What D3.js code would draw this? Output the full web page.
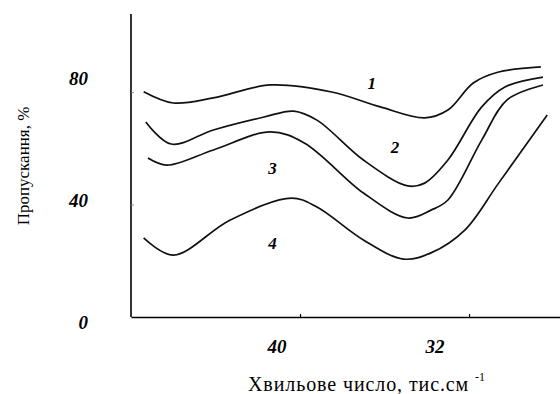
<!DOCTYPE html>
<html>
<head>
<meta charset="utf-8">
<script src="https://cdn.jsdelivr.net/npm/d3@7"></script>
<style>
body { margin: 0; background: #fff; }
svg text { font-family: "Liberation Serif", "DejaVu Serif", serif; fill: #000; }
.num { font-weight: bold; font-style: italic; }
</style>
</head>
<body>
<svg id="chart" width="560" height="394"></svg>
<script>
// wavenumber (thous. cm-1) / transmittance (%)
var curve1 = [[47.4,80.1],[46.0,76.1],[44.1,77.9],[41.4,82.5],[38.5,80.0],[36.2,74.7],[34.1,70.8],[33.0,73.6],[31.8,83.2],[30.6,87.1],[28.6,88.9]];
var curve2 = [[47.3,69.3],[46.1,61.5],[44.1,66.5],[41.7,71.1],[40.3,73.2],[39.2,70.0],[37.0,55.8],[34.9,46.6],[34.1,47.6],[33.0,55.8],[31.4,74.7],[30.3,81.8],[28.5,85.3]];
var curve3 = [[47.2,56.5],[46.3,54.0],[44.1,59.4],[41.4,65.8],[39.8,61.9],[37.0,44.1],[34.9,35.2],[33.8,38.0],[33.0,41.6],[31.4,62.9],[30.2,77.2],[28.5,82.5]];
var curve4 = [[47.4,28.1],[46.0,22.0],[43.3,34.5],[40.4,42.3],[39.2,39.1],[37.0,27.4],[35.1,20.6],[33.8,22.8],[32.2,30.9],[30.6,47.6],[28.3,71.8]];
var curves = [curve1, curve2, curve3, curve4];
var curveNames = ["1", "2", "3", "4"];
var curveLabelAt = [[36.6,83.2], [35.5,60.4], [41.3,53], [41.3,26.3]];

var xTicks = [40, 32];
var yTicks = [80, 40, 0];

var svg = d3.select("#chart");

var x = d3.scaleLinear().domain([48, 27.6]).range([131, 562]);
var y = d3.scaleLinear().domain([0, 80]).range([317, 92]);
// tick numbers in the original are not placed right at the tick marks
var xLab = d3.scaleLinear().domain([40, 32]).range([277, 435]);
var yLab = d3.scaleLinear().domain([0, 80]).range([322, 78]);

// axes
var xAxis = d3.axisBottom(x).tickValues(xTicks).tickSize(-3).tickSizeOuter(0).tickFormat("");
var gx = svg.append("g").attr("transform", "translate(0," + y(0) + ")").call(xAxis);
gx.select(".domain").attr("stroke-width", 1.6);
gx.selectAll(".tick line").attr("stroke-width", 1.2);

var yAxis = d3.axisRight(y).tickValues([80, 40]).tickSize(3).tickSizeOuter(0).tickFormat("");
var gy = svg.append("g").attr("transform", "translate(" + x(48) + ",0)").call(yAxis);
gy.select(".domain").attr("d", "M0," + y(107.7) + "V" + y(0)).attr("stroke-width", 1.6);
gy.selectAll(".tick line").attr("stroke", "#777").attr("stroke-width", 0.8);

svg.selectAll("text.xnum").data(xTicks).enter().append("text")
	.attr("class", "num xnum").attr("x", function(d) { return xLab(d); }).attr("y", 346)
	.attr("dy", ".35em").attr("text-anchor", "middle").attr("font-size", 19).text(function(d) { return d; });

svg.selectAll("text.ynum").data(yTicks).enter().append("text")
	.attr("class", "num ynum").attr("x", 88).attr("y", function(d) { return yLab(d); })
	.attr("dy", ".35em").attr("text-anchor", "end").attr("font-size", 19).text(function(d) { return d; });

// axis titles
var xt = svg.append("text").attr("x", 248).attr("y", 391).attr("font-size", 20);
xt.append("tspan").attr("letter-spacing", 0.9).text("Хвильове число, тис.см ");
xt.append("tspan").attr("dy", -10).attr("font-size", 12).text("-1");

svg.append("text").attr("transform", "translate(29,166) rotate(-90)")
	.attr("text-anchor", "middle").attr("font-size", 17).text("Пропускання, %");

// spectra
var line = d3.line()
	.x(function(d) { return x(d[0]); })
	.y(function(d) { return y(d[1]); })
	.curve(d3.curveCatmullRom.alpha(0.5));

svg.selectAll("path.spectrum").data(curves).enter().append("path")
	.attr("class", "spectrum").attr("d", line)
	.attr("fill", "none").attr("stroke", "#111").attr("stroke-width", 1.7);

svg.selectAll("text.cname").data(curveNames).enter().append("text")
	.attr("class", "num cname").attr("font-size", 17).attr("text-anchor", "middle")
	.attr("x", function(d, i) { return x(curveLabelAt[i][0]); })
	.attr("y", function(d, i) { return y(curveLabelAt[i][1]); })
	.attr("dy", ".35em").text(function(d) { return d; });
</script>
</body>
</html>
